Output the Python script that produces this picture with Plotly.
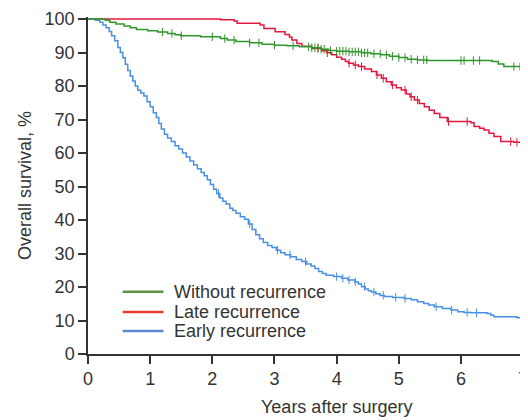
import numpy as np
import plotly.graph_objects as go

# ---- data ----
green_t = [0, 0.28, 0.35, 0.45, 0.58, 0.68, 0.78, 0.96, 1.12, 1.28, 1.40, 1.49, 1.81, 2.13, 2.24, 2.38, 2.6, 2.8, 3.0,
           3.2, 3.4, 3.6, 3.75, 3.87, 4.0, 4.2, 4.4, 4.55, 4.71, 4.85, 5.0, 5.14, 5.3, 5.46, 6.5, 6.6, 6.69, 7.03]
green_s = [100, 99.6, 99.0, 98.5, 97.9, 97.4, 96.9, 96.5, 96.1, 95.7, 95.3, 95.0, 94.7, 94.2, 93.7, 93.3, 92.9, 92.5,
           92.2, 92.0, 91.7, 91.4, 91.0, 90.6, 90.4, 90.2, 89.9, 89.6, 89.3, 88.9, 88.5, 88.0, 87.8, 87.6, 87.3, 86.6,
           85.8, 85.2]
green_cens = [1.2, 1.35, 1.5, 2.0, 2.2, 2.35, 2.6, 2.75, 3.0, 3.3, 3.55, 3.6, 3.65, 3.7, 3.75, 3.8, 3.9, 4.0, 4.05, 4.1,
              4.15, 4.2, 4.25, 4.3, 4.35, 4.4, 4.45, 4.5, 4.6, 4.7, 4.8, 4.9, 5.0, 5.1, 5.2, 5.3, 5.4, 5.45, 6.0, 6.05,
              6.2, 6.3, 6.85, 6.95]

red_t = [0, 2.13, 2.35, 2.40, 2.77, 2.83, 3.01, 3.17, 3.24, 3.28, 3.36, 3.44, 3.60, 3.76, 3.84, 3.92, 4.00, 4.08, 4.14,
         4.19, 4.27, 4.35, 4.45, 4.56, 4.64, 4.72, 4.80, 4.88, 4.96, 5.04, 5.12, 5.18, 5.25, 5.33, 5.41, 5.49, 5.57,
         5.66, 5.78, 6.16, 6.21, 6.30, 6.37, 6.45, 6.53, 6.64, 6.85, 6.98]
red_s = [100, 99.8, 99.4, 98.7, 98.2, 97.2, 96.2, 95.4, 94.6, 93.7, 92.7, 91.9, 91.2, 90.5, 89.9, 89.3, 88.6, 88.0,
         87.3, 86.8, 86.3, 85.8, 85.1, 84.3, 83.3, 82.3, 81.3, 80.3, 79.5, 78.8, 77.6, 76.8, 75.8, 74.8, 73.8, 72.8,
         71.8, 70.6, 69.4, 69.0, 67.9, 67.4, 66.9, 65.9, 64.9, 63.4, 63.2, 61.4]
red_cens = [3.7, 3.85, 4.2, 4.3, 4.4, 4.65, 4.75, 4.9, 5.1, 5.2, 5.3, 5.8, 6.1, 6.8, 6.9]

blue_t = [0, 0.12, 0.19, 0.24, 0.29, 0.34, 0.38, 0.43, 0.48, 0.52, 0.56, 0.60, 0.64, 0.68, 0.72, 0.76, 0.80, 0.85,
          0.90, 0.95, 1.00, 1.05, 1.10, 1.14, 1.18, 1.23, 1.28, 1.34, 1.40, 1.46, 1.52, 1.58, 1.64, 1.70, 1.76, 1.82,
          1.87, 1.92, 1.97, 2.02, 2.07, 2.12, 2.17, 2.22, 2.28, 2.33, 2.38, 2.45, 2.52, 2.58, 2.64, 2.70, 2.76, 2.82,
          2.89, 2.96, 3.03, 3.10, 3.17, 3.26, 3.35, 3.44, 3.52, 3.59, 3.65, 3.71, 3.77, 3.83, 3.95, 4.08, 4.18, 4.29,
          4.35, 4.40, 4.46, 4.51, 4.56, 4.63, 4.70, 4.77, 4.90, 5.09, 5.20, 5.30, 5.40, 5.48, 5.57, 5.70, 5.84, 5.95,
          6.05, 6.16, 6.42, 6.48, 6.53, 6.90, 7.03]
blue_s = [100, 99.6, 99.0, 98.2, 97.4, 96.3, 95.0, 93.5, 91.5, 90.0, 88.4, 86.5, 84.6, 83.0, 81.5, 80.0, 78.7, 77.9,
          77.0, 75.3, 73.8, 72.0, 70.6, 68.8, 67.2, 65.6, 64.5, 63.4, 62.2, 61.2, 60.0, 58.8, 57.6, 56.4, 55.3, 54.2,
          53.2, 52.0, 50.6, 49.2, 47.9, 46.6, 45.6, 44.8, 43.5, 42.8, 42.0, 41.0, 40.2, 38.8, 37.2, 35.6, 34.4, 33.3,
          32.4, 31.8, 31.0, 30.2, 29.6, 29.0, 28.2, 27.6, 26.9, 26.3, 25.5, 24.6, 24.0, 23.5, 23.1, 22.6, 22.1, 21.5,
          20.9, 20.1, 19.4, 18.9, 18.5, 18.0, 17.5, 17.2, 16.9, 16.6, 16.2, 15.6, 15.1, 14.6, 14.1, 13.6, 13.1, 12.6,
          12.4, 12.3, 12.1, 11.6, 11.1, 10.8, 10.6]
blue_cens = [2.1, 2.6, 3.05, 3.25, 3.5, 4.0, 4.1, 4.2, 4.3, 4.45, 4.6, 4.75, 4.95, 5.1, 5.6, 5.85, 6.1, 6.25, 7.0]

names = ["Without recurrence", "Late recurrence", "Early recurrence"]
line_colors = ["#2f962a", "#e3173e", "#4a90e2"]
legend_colors = ["#5b9444", "#f23a3a", "#5d8ad4"]

x_ticks = [0, 1, 2, 3, 4, 5, 6, 7]
y_ticks = [0, 10, 20, 30, 40, 50, 60, 70, 80, 90, 100]


def step_at(ts, ss, c):
    ts = np.asarray(ts)
    idx = np.searchsorted(ts, c, side="right") - 1
    return np.asarray(ss)[idx]


fig = go.Figure()
groups = [(red_t, red_s, red_cens, 1), (blue_t, blue_s, blue_cens, 2), (green_t, green_s, green_cens, 0)]
for ts, ss, cens, k in groups:
    fig.add_trace(go.Scatter(x=ts, y=ss, mode="lines", line=dict(shape="hv", color=line_colors[k], width=1.5),
                             showlegend=False, hoverinfo="skip"))
    fig.add_trace(go.Scatter(x=cens, y=step_at(ts, ss, cens), mode="markers",
                             marker=dict(symbol="line-ns-open", size=6, color=line_colors[k],
                                         line=dict(color=line_colors[k], width=1)),
                             showlegend=False, hoverinfo="skip"))

# Custom legend (line samples + labels), placed in paper coordinates
FONT = "Liberation Sans, Arial, Helvetica, sans-serif"
shapes = []
annotations = []
legend_rows_y = [0.185, 0.125, 0.068]
for k in range(3):
    shapes.append(dict(type="line", xref="paper", yref="paper", x0=0.0795, x1=0.1727,
                       y0=legend_rows_y[k], y1=legend_rows_y[k], line=dict(color=legend_colors[k], width=2.5)))
    annotations.append(dict(text=names[k], xref="paper", yref="paper", x=0.193, y=legend_rows_y[k],
                            xanchor="left", yanchor="middle", showarrow=False,
                            font=dict(family=FONT, size=18, color="#333333")))

annotations.append(dict(text="Years after surgery", xref="paper", yref="paper", x=0.568, y=-0.157,
                        xanchor="center", yanchor="middle", showarrow=False,
                        font=dict(family=FONT, size=18, color="#333333")))

fig.update_layout(
    width=520, height=412,
    margin=dict(l=80, r=0, t=9, b=66),
    paper_bgcolor="white", plot_bgcolor="white",
    font=dict(family=FONT, size=18, color="#333333"),
    showlegend=False,
    shapes=shapes,
    annotations=annotations,
    xaxis=dict(range=[0, 7.03], tickvals=x_ticks, showgrid=False, zeroline=False, showline=True,
               linecolor="#333333", linewidth=1.5, ticks="outside", ticklen=8, tickwidth=1.5, tickcolor="#333333",
               tickfont=dict(size=18), ticklabeloverflow="allow"),
    yaxis=dict(range=[0, 100.6], tickvals=y_ticks, showgrid=False, zeroline=False, showline=True,
               linecolor="#333333", linewidth=1.5, ticks="outside", ticklen=8, tickwidth=1.5, tickcolor="#333333",
               tickfont=dict(size=18), title=dict(text="Overall survival, %", font=dict(size=18), standoff=8)),
)

fig.write_html("out.html")
